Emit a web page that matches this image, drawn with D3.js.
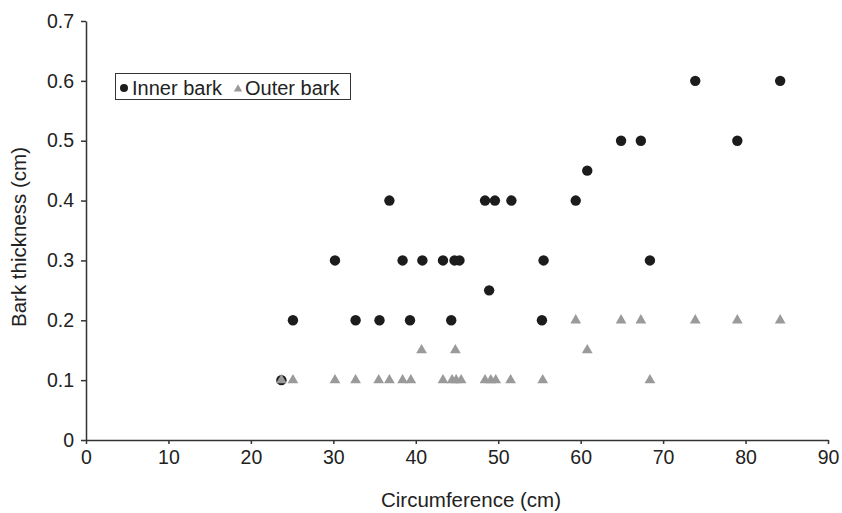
<!DOCTYPE html>
<html>
<head>
<meta charset="utf-8">
<script src="https://cdn.jsdelivr.net/npm/d3@7"></script>
<style>
  body { margin: 0; background: #fff; }
  svg { font-family: "Liberation Sans", Arial, sans-serif; }
  .axis path, .axis line { stroke: #333; stroke-width: 1.5; }
  .axis text { font-size: 19.5px; fill: #222; }
</style>
</head>
<body>
<svg width="842" height="513"></svg>
<script>
// circumference (cm) and thickness (cm)
var innerCirc = [23.7, 25.1, 30.2, 32.7, 35.6, 36.8, 38.4, 39.3, 40.8, 43.3, 44.3, 44.7, 45.3,
                 48.4, 48.9, 49.6, 51.6, 55.3, 55.5, 59.4, 60.8, 64.9, 67.3, 68.4, 73.9, 79.0, 84.2];
var innerBark = [0.1, 0.2, 0.3, 0.2, 0.2, 0.4, 0.3, 0.2, 0.3, 0.3, 0.2, 0.3, 0.3,
                 0.4, 0.25, 0.4, 0.4, 0.2, 0.3, 0.4, 0.45, 0.5, 0.5, 0.3, 0.6, 0.5, 0.6];
var outerCirc = [23.7, 25.1, 30.2, 32.7, 35.5, 36.8, 38.4, 39.4, 40.7, 43.3, 44.4, 44.8, 44.9, 45.5,
                 48.4, 49.1, 49.7, 51.5, 55.4, 59.4, 60.8, 64.9, 67.3, 68.4, 73.9, 79.0, 84.2];
var outerBark = [0.1, 0.1, 0.1, 0.1, 0.1, 0.1, 0.1, 0.1, 0.15, 0.1, 0.1, 0.15, 0.1, 0.1,
                 0.1, 0.1, 0.1, 0.1, 0.1, 0.2, 0.15, 0.2, 0.2, 0.1, 0.2, 0.2, 0.2];
var xTicks = [0, 10, 20, 30, 40, 50, 60, 70, 80, 90];
var yTicks = [0, 0.1, 0.2, 0.3, 0.4, 0.5, 0.6, 0.7];

var innerColor = '#1c1c1c';
var outerColor = '#9a9a9a';

var svg = d3.select('svg');
var x = d3.scaleLinear().domain([0, 90]).range([86, 828]);
var y = d3.scaleLinear().domain([0, 0.7]).range([440, 21]);

// axes
svg.append('g')
    .attr('class', 'axis')
    .attr('transform', 'translate(0,440)')
    .call(d3.axisBottom(x).tickValues(xTicks).tickSize(4).tickPadding(6).tickSizeOuter(0))
  .selectAll('text')
    .attr('dy', '0.71em');

svg.append('g')
    .attr('class', 'axis')
    .attr('transform', 'translate(86,0)')
    .call(d3.axisLeft(y).tickValues(yTicks).tickSize(5).tickPadding(7).tickSizeOuter(0)
      .tickFormat(function(d) { return d === 0 ? '0' : d3.format('.1f')(d); }));

svg.selectAll('.axis .domain').attr('fill', 'none');

// axis titles
svg.append('text')
    .text('Circumference (cm)')
    .attr('x', 471)
    .attr('y', 507)
    .attr('text-anchor', 'middle')
    .attr('font-size', 20.5)
    .attr('fill', '#222');

svg.append('text')
    .text('Bark thickness (cm)')
    .attr('transform', 'translate(26,237) rotate(-90)')
    .attr('text-anchor', 'middle')
    .attr('font-size', 20.5)
    .attr('fill', '#222');

// inner bark first, outer bark drawn on top
svg.append('g').selectAll('circle')
    .data(innerCirc)
  .enter().append('circle')
    .attr('cx', function(d) { return x(d); })
    .attr('cy', function(d, i) { return y(innerBark[i]); })
    .attr('r', 5.2)
    .attr('fill', innerColor);

var tri = d3.symbol().type(d3.symbolTriangle).size(50);
svg.append('g').selectAll('path')
    .data(outerCirc)
  .enter().append('path')
    .attr('d', tri)
    .attr('transform', function(d, i) { return 'translate(' + x(d) + ',' + y(outerBark[i]) + ')'; })
    .attr('fill', outerColor);

// legend
var legend = svg.append('g');
legend.append('rect')
    .attr('x', 115.5).attr('y', 73.5)
    .attr('width', 235).attr('height', 26)
    .attr('fill', '#fff')
    .attr('stroke', '#333')
    .attr('stroke-width', 1);
legend.append('circle')
    .attr('cx', 124).attr('cy', 88)
    .attr('r', 4)
    .attr('fill', innerColor);
legend.append('text')
    .text('Inner bark')
    .attr('x', 132).attr('y', 95)
    .attr('font-size', 20)
    .attr('fill', '#222');
legend.append('path')
    .attr('d', d3.symbol().type(d3.symbolTriangle).size(30))
    .attr('transform', 'translate(238,89)')
    .attr('fill', outerColor);
legend.append('text')
    .text('Outer bark')
    .attr('x', 245).attr('y', 95)
    .attr('font-size', 20)
    .attr('fill', '#222');
</script>
</body>
</html>
